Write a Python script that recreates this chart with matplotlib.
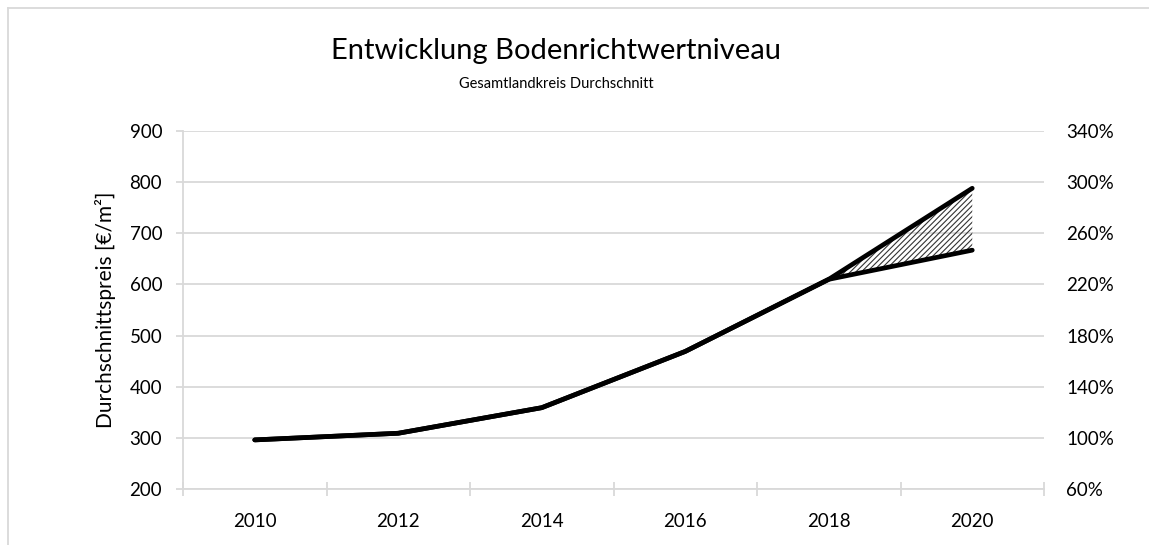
import numpy as np
import matplotlib
matplotlib.use("Agg")
import matplotlib.pyplot as plt
from matplotlib.lines import Line2D

plt.rcParams["font.family"] = ["Lato", "DejaVu Sans"]
plt.rcParams["hatch.linewidth"] = 0.8
plt.rcParams["hatch.color"] = "#333333"

# ---- data -------------------------------------------------------------------
YEARS = ["2010", "2012", "2014", "2016", "2018", "2020"]
PRICE_HIGH = [296, 309, 359, 469, 610, 788]   # EUR/m2, upper scenario
PRICE_LOW = [296, 309, 359, 469, 610, 667]    # EUR/m2, lower scenario
Y_TICKS = [200, 300, 400, 500, 600, 700, 800, 900]
PCT_TICKS = [60, 100, 140, 180, 220, 260, 300, 340]

TITLE = "Entwicklung Bodenrichtwertniveau"
SUBTITLE = "Gesamtlandkreis Durchschnitt"
YLABEL = "Durchschnittspreis [€/m²]"

GRID = "#d9d9d9"
INK = "#000000"

W, H = 1149, 545
fig = plt.figure(figsize=(W / 100, H / 100), dpi=100)
ax = fig.add_axes([183 / W, (H - 489) / H, (1044 - 183) / W, (489 - 131) / H])

x = np.arange(len(YEARS))
ax.fill_between(x, PRICE_LOW, PRICE_HIGH, facecolor="none", edgecolor="#333333",
                hatch="//////", lw=0, zorder=2)
for series in (PRICE_LOW, PRICE_HIGH):
    ax.plot(x, series, color=INK, lw=3.4, solid_capstyle="round",
            solid_joinstyle="round", zorder=4)

ax.set_xlim(-0.5, len(YEARS) - 0.5)
ax.set_ylim(Y_TICKS[0], Y_TICKS[-1])
ax.set_yticks(Y_TICKS)
ax.set_yticklabels([str(v) for v in Y_TICKS])
ax.grid(axis="y", color=GRID, lw=1.3, zorder=0)
ax.set_axisbelow(True)

# category boundaries carry the tick marks, labels sit at the centres
ax.set_xticks(np.arange(-0.5, len(YEARS), 1.0))
ax.set_xticklabels([])
ax.set_xticks(x, minor=True)
ax.set_xticklabels(YEARS, minor=True)
ax.tick_params(axis="x", which="major", direction="inout", length=10, width=1.3, color=GRID)
ax.tick_params(axis="x", which="minor", length=0, pad=17, labelsize=13.5, labelcolor=INK)
ax.tick_params(axis="y", direction="out", length=5, width=1.3, color=GRID,
               pad=10, labelsize=13.5, labelcolor=INK)

for s in ("top", "right"):
    ax.spines[s].set_visible(False)
for s in ("left", "bottom"):
    ax.spines[s].set_color(GRID)
    ax.spines[s].set_linewidth(1.3)

ax2 = ax.twinx()
ax2.set_ylim(PCT_TICKS[0], PCT_TICKS[-1])
ax2.set_yticks(PCT_TICKS)
ax2.set_yticklabels([f"{v}%" for v in PCT_TICKS])
ax2.tick_params(axis="y", length=0, pad=16, labelsize=13.5, labelcolor=INK)
for s in ax2.spines.values():
    s.set_visible(False)

fig.text(556 / W, (H - 59) / H, TITLE, ha="center", va="baseline", fontsize=21, color=INK)
fig.text(556 / W, (H - 88) / H, SUBTITLE, ha="center", va="baseline", fontsize=10.5, color=INK)
fig.text(105 / W, (H - 310) / H, YLABEL, ha="center", va="center", rotation=90,
         fontsize=15, color=INK)

# chart-area border (cropped on the right and bottom in the original)
fig.add_artist(Line2D([7.5 / W, 7.5 / W], [0, (H - 8) / H], color=GRID, lw=1.3,
                      transform=fig.transFigure))
fig.add_artist(Line2D([7.5 / W, 1], [(H - 8) / H, (H - 8) / H], color=GRID, lw=1.3,
                      transform=fig.transFigure))

fig.savefig("out.png", dpi=100)
